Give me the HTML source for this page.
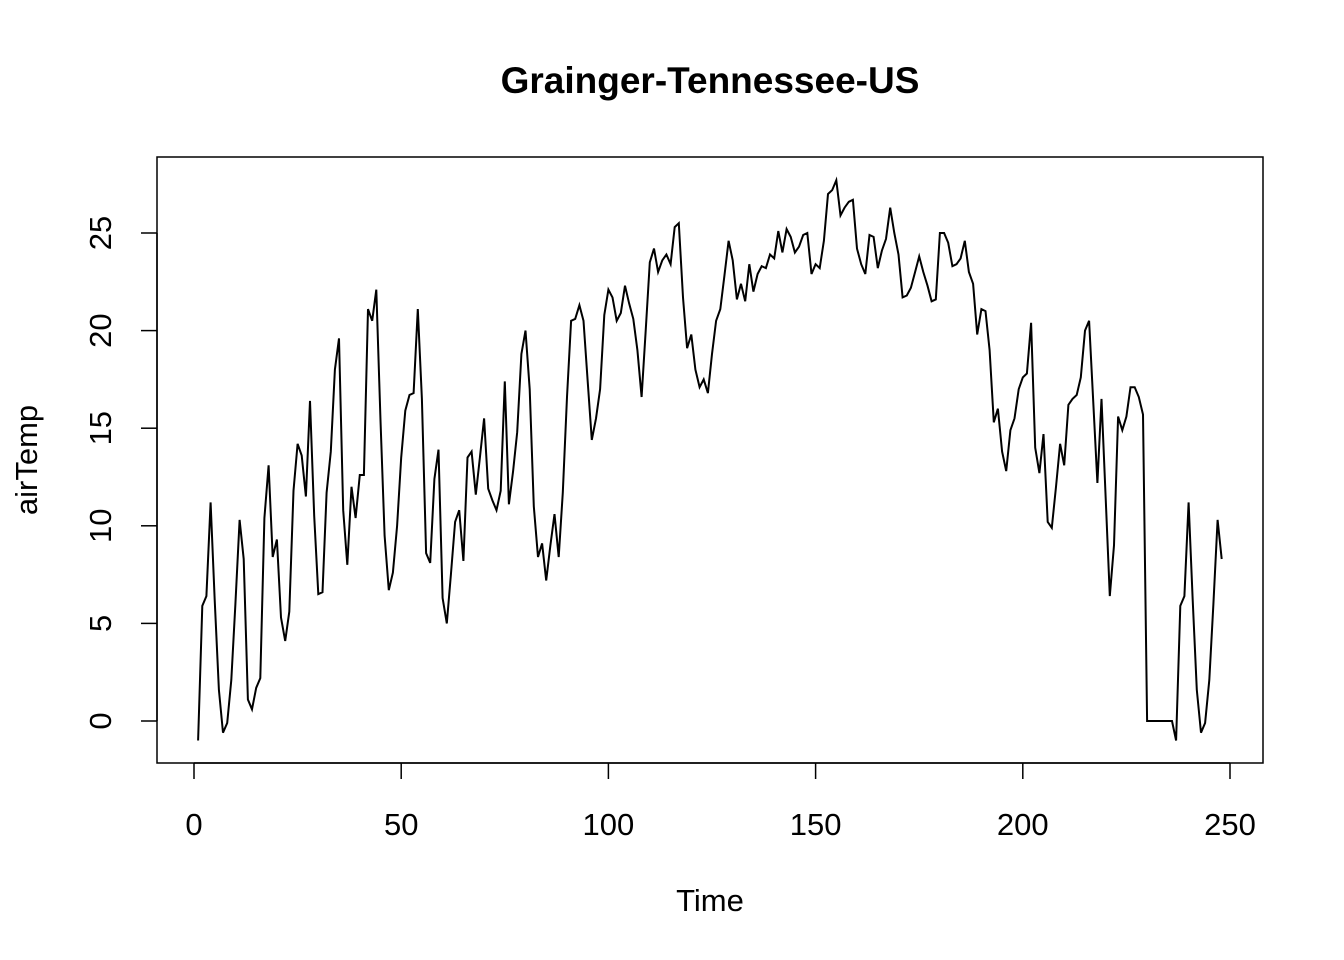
<!DOCTYPE html>
<html><head><meta charset="utf-8"><style>
body{margin:0;background:#fff;}
svg{display:block;font-family:"Liberation Sans",Arial,sans-serif;}
</style></head><body>
<svg id="chart" width="1344" height="960">
<text x="710" y="93" text-anchor="middle" font-size="37" font-weight="bold">Grainger-Tennessee-US</text>
<rect x="157" y="157" width="1106" height="606" fill="none" stroke="#000" stroke-width="1.5"/>
<g id="xaxis"></g>
<g id="yaxis"></g>
<text x="710" y="911" text-anchor="middle" font-size="31">Time</text>
<text transform="translate(37,460) rotate(-90)" text-anchor="middle" font-size="31">airTemp</text>
<path id="series" fill="none" stroke="#000" stroke-width="2"/>
</svg>
<script>
const xTicks=[0,50,100,150,200,250];
const yTicks=[0,5,10,15,20,25];
const airTemp=[-1.0,5.9,6.4,11.2,6.2,1.6,-0.6,-0.1,2.1,6.0,10.3,8.3,1.1,0.6,1.7,2.2,10.4,13.1,8.4,9.3,
5.3,4.1,5.6,11.8,14.2,13.6,11.5,16.4,10.5,6.5,6.6,11.7,13.8,18.0,19.6,10.8,8.0,12.0,10.4,12.6,
12.6,21.1,20.5,22.1,15.4,9.5,6.7,7.6,10.0,13.5,15.9,16.7,16.8,21.1,16.5,8.6,8.1,12.4,13.9,6.3,
5.0,7.5,10.2,10.8,8.2,13.5,13.8,11.6,13.5,15.5,11.9,11.3,10.8,11.8,17.4,11.1,12.8,14.8,18.8,20.0,
17.0,11.0,8.4,9.1,7.2,9.0,10.6,8.4,11.7,16.6,20.5,20.6,21.3,20.5,17.4,14.4,15.5,17.0,20.8,22.1,
21.7,20.5,20.9,22.3,21.4,20.6,19.0,16.6,20.0,23.5,24.2,23.0,23.6,23.9,23.4,25.3,25.5,21.7,19.1,19.8,
18.0,17.1,17.5,16.8,18.8,20.5,21.1,22.8,24.6,23.6,21.6,22.4,21.5,23.4,22.0,22.9,23.3,23.2,23.9,23.7,
25.1,24.0,25.2,24.8,24.0,24.3,24.9,25.0,22.9,23.4,23.2,24.6,27.0,27.2,27.7,25.9,26.3,26.6,26.7,24.2,
23.4,22.9,24.9,24.8,23.2,24.1,24.7,26.3,25.0,23.9,21.7,21.8,22.2,23.0,23.8,23.0,22.3,21.5,21.6,25.0,
25.0,24.5,23.3,23.4,23.7,24.6,23.0,22.4,19.8,21.1,21.0,19.0,15.3,16.0,13.8,12.8,14.9,15.5,17.0,17.6,
17.8,20.4,14.0,12.7,14.7,10.2,9.9,12.0,14.2,13.1,16.2,16.5,16.7,17.6,20.0,20.5,16.4,12.2,16.5,11.4,
6.4,9.0,15.6,14.9,15.6,17.1,17.1,16.6,15.7,0,0,0,0,0,0,0,-1.0,5.9,6.4,11.2,
6.2,1.6,-0.6,-0.1,2.1,6.0,10.3,8.3];
const NS="http://www.w3.org/2000/svg";
const xs=t=>194+t*(1230-194)/250;
const ys=v=>721-v*(721-233)/25;
function mk(tag,attrs,parent){const e=document.createElementNS(NS,tag);for(const k in attrs)e.setAttribute(k,attrs[k]);parent.appendChild(e);return e;}
const xg=document.getElementById('xaxis'),yg=document.getElementById('yaxis');
mk('line',{x1:xs(0),x2:xs(250),y1:763,y2:763,stroke:'#000','stroke-width':1.5},xg);
xTicks.forEach(t=>{
 const l=mk('line',{x1:xs(t),x2:xs(t),y1:763,y2:779,stroke:'#000','stroke-width':1.5},xg);
 
 
 const tx=mk('text',{x:xs(t),y:835,'text-anchor':'middle','font-size':31},xg);
 tx.textContent=t;
 
 
});
mk('line',{x1:157,x2:157,y1:ys(0),y2:ys(25),stroke:'#000','stroke-width':1.5},yg);
yTicks.forEach(v=>{
 const l=mk('line',{x1:141,x2:157,y1:ys(v),y2:ys(v),stroke:'#000','stroke-width':1.5},yg);
 
 
 const tx=mk('text',{transform:`translate(111,${ys(v)}) rotate(-90)`,'text-anchor':'middle','font-size':31},yg);
 tx.textContent=v;
 
 
});
document.getElementById('series').setAttribute('d',airTemp.map((v,i)=>(i?'L':'M')+xs(i+1).toFixed(1)+','+ys(v).toFixed(1)).join(''));
</script>
</body></html>
